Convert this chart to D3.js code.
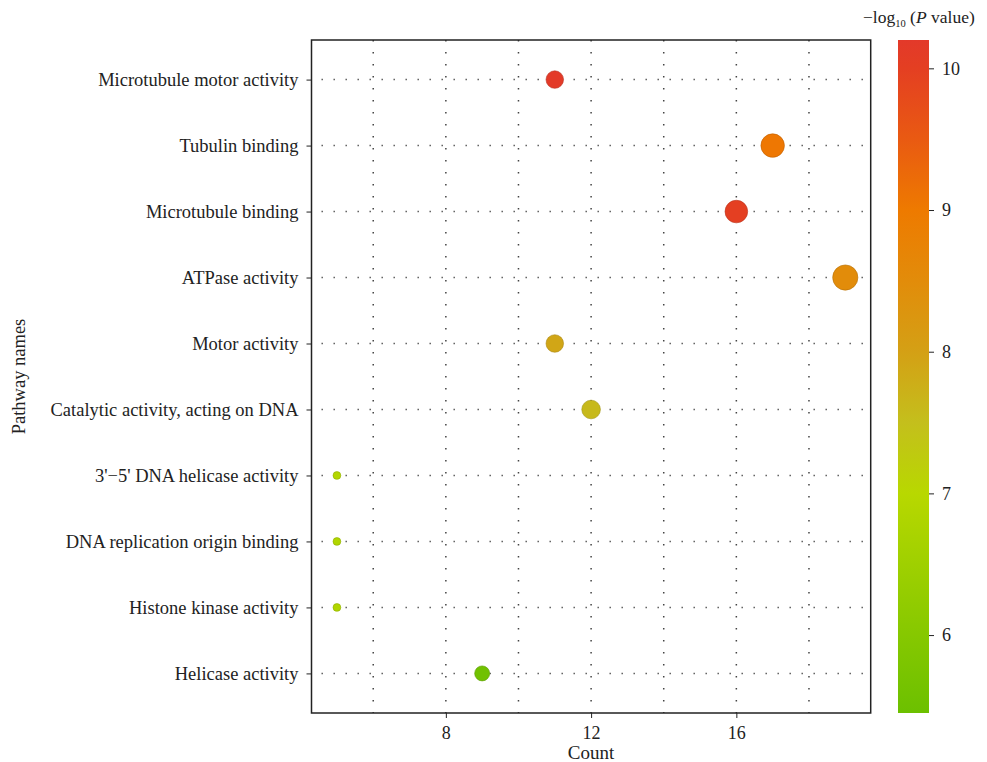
<!DOCTYPE html>
<html>
<head>
<meta charset="utf-8">
<script src="https://cdn.jsdelivr.net/npm/d3@7"></script>
<style>
  body { margin: 0; background: #fff; }
  svg { display: block; }
  text { font-family: "Liberation Serif", "DejaVu Serif", serif; fill: #222; }
</style>
</head>
<body>
<svg></svg>
<script>
const w = 987
const h = 762

// data, top row first
const pathways = [
  'Microtubule motor activity',
  'Tubulin binding',
  'Microtubule binding',
  'ATPase activity',
  'Motor activity',
  'Catalytic activity, acting on DNA',
  "3'\u22125' DNA helicase activity",
  'DNA replication origin binding',
  'Histone kinase activity',
  'Helicase activity'
]
const counts = [11, 17, 16, 19, 11, 12, 5, 5, 5, 9]
const logP = [10.15, 9.05, 10.0, 8.5, 7.9, 7.6, 6.9, 6.85, 6.85, 5.55]
const xTicks = [8, 12, 16]
const xMinor = [6, 10, 14, 18]
const colorTicks = [6, 7, 8, 9, 10]
const colorStops = [5.45, 6, 7, 7.5, 8, 8.5, 9, 9.5, 10, 10.2]
const colorVals = ['#6cc000', '#86c800', '#b8d800', '#c4bf1c', '#d4a015', '#e28c0a', '#ee7a00', '#e95a12', '#e43f22', '#e3392a']

const data = pathways.map((p, i) => ({ name: p, count: counts[i], p: logP[i] }))

const svg = d3.select('svg')
  .attr('width', w)
  .attr('height', h)

const margin = { top: 40, left: 311.5, right: 116.3, bottom: 49 }
const innerWidth = w - margin.left - margin.right
const innerHeight = h - margin.top - margin.bottom

const g = svg.append('g')
  .attr('transform', `translate(${margin.left}, ${margin.top})`)

const xScale = d3.scaleLinear()
  .domain([4.3, 19.7])
  .range([0, innerWidth])

const yScale = d3.scalePoint()
  .domain(pathways)
  .range([0, innerHeight])
  .padding(0.6)

const rScale = d3.scaleRadial()
  .domain([5, 19])
  .range([3.9, 12.6])

const color = d3.scaleLinear()
  .domain(colorStops)
  .range(colorVals)

// grid lines (dotted)
g.append('g').selectAll('line.vg')
  .data(xMinor.concat(xTicks))
  .enter().append('line')
  .attr('x1', d => xScale(d)).attr('x2', d => xScale(d))
  .attr('y1', 0).attr('y2', innerHeight)
  .attr('stroke', '#444')
  .attr('stroke-width', 1.5)
  .attr('stroke-dasharray', '1.4,10.6')

g.append('g').selectAll('line.hg')
  .data(pathways)
  .enter().append('line')
  .attr('x1', 0).attr('x2', innerWidth)
  .attr('y1', d => yScale(d)).attr('y2', d => yScale(d))
  .attr('stroke', '#555')
  .attr('stroke-width', 1.5)
  .attr('stroke-dasharray', '1.4,10.6')
  .attr('stroke-dashoffset', -10)

// axes
const xAxis = d3.axisBottom(xScale)
  .tickValues(xTicks)
  .tickSize(5)
  .tickPadding(8)
const xAxisG = g.append('g').call(xAxis)
  .attr('transform', `translate(0, ${innerHeight})`)
xAxisG.select('.domain').remove()
xAxisG.selectAll('text').attr('font-size', 18).attr('fill', '#222')
xAxisG.selectAll('line').attr('stroke', '#222')

const yAxis = d3.axisLeft(yScale)
  .tickSize(5)
  .tickPadding(8)
const yAxisG = g.append('g').call(yAxis)
yAxisG.select('.domain').remove()
yAxisG.selectAll('text').attr('font-size', 18.5).attr('fill', '#222')
yAxisG.selectAll('line').attr('stroke', '#222')

// frame
g.append('rect')
  .attr('width', innerWidth)
  .attr('height', innerHeight)
  .attr('fill', 'none')
  .attr('stroke', '#222')
  .attr('stroke-width', 1.5)

// points
g.selectAll('circle').data(data)
  .enter().append('circle')
  .attr('cx', d => xScale(d.count))
  .attr('cy', d => yScale(d.name))
  .attr('r', d => rScale(d.count))
  .attr('fill', d => color(d.p))
  .attr('stroke', d => d3.color(color(d.p)).darker(0.6))
  .attr('stroke-width', 0.6)

// axis titles
g.append('text')
  .attr('x', innerWidth / 2)
  .attr('y', innerHeight + 46)
  .attr('text-anchor', 'middle')
  .attr('font-size', 19)
  .text('Count')

g.append('text')
  .attr('transform', `translate(${-margin.left + 25}, ${innerHeight / 2}) rotate(-90)`)
  .attr('text-anchor', 'middle')
  .attr('font-size', 18.5)
  .text('Pathway names')

// colour bar
const barX = 898
const barW = 31
const cScale = d3.scaleLinear()
  .domain([colorStops[0], colorStops[colorStops.length - 1]])
  .range([margin.top + innerHeight, margin.top])

const grad = svg.append('defs').append('linearGradient')
  .attr('id', 'cbar')
  .attr('x1', 0).attr('x2', 0).attr('y1', 1).attr('y2', 0)
grad.selectAll('stop').data(colorStops)
  .enter().append('stop')
  .attr('offset', d => (d - colorStops[0]) / (colorStops[colorStops.length - 1] - colorStops[0]))
  .attr('stop-color', d => color(d))

svg.append('rect')
  .attr('x', barX)
  .attr('y', margin.top)
  .attr('width', barW)
  .attr('height', innerHeight)
  .attr('fill', 'url(#cbar)')

const cAxis = d3.axisRight(cScale)
  .tickValues(colorTicks)
  .tickFormat(d3.format('d'))
  .tickSize(5)
  .tickPadding(8)
const cAxisG = svg.append('g')
  .attr('transform', `translate(${barX + barW}, 0)`)
  .call(cAxis)
cAxisG.select('.domain').remove()
cAxisG.selectAll('text').attr('font-size', 18).attr('fill', '#222')
cAxisG.selectAll('line').attr('stroke', '#222')

const lt = svg.append('text')
  .attr('x', 863)
  .attr('y', 23)
  .attr('font-size', 17.5)
lt.append('tspan').text('\u2212log')
lt.append('tspan').attr('font-size', 10.5).attr('dy', 4).text('10')
lt.append('tspan').attr('dy', -4).text(' (')
lt.append('tspan').attr('font-style', 'italic').text('P')
lt.append('tspan').text(' value)')
</script>
</body>
</html>
